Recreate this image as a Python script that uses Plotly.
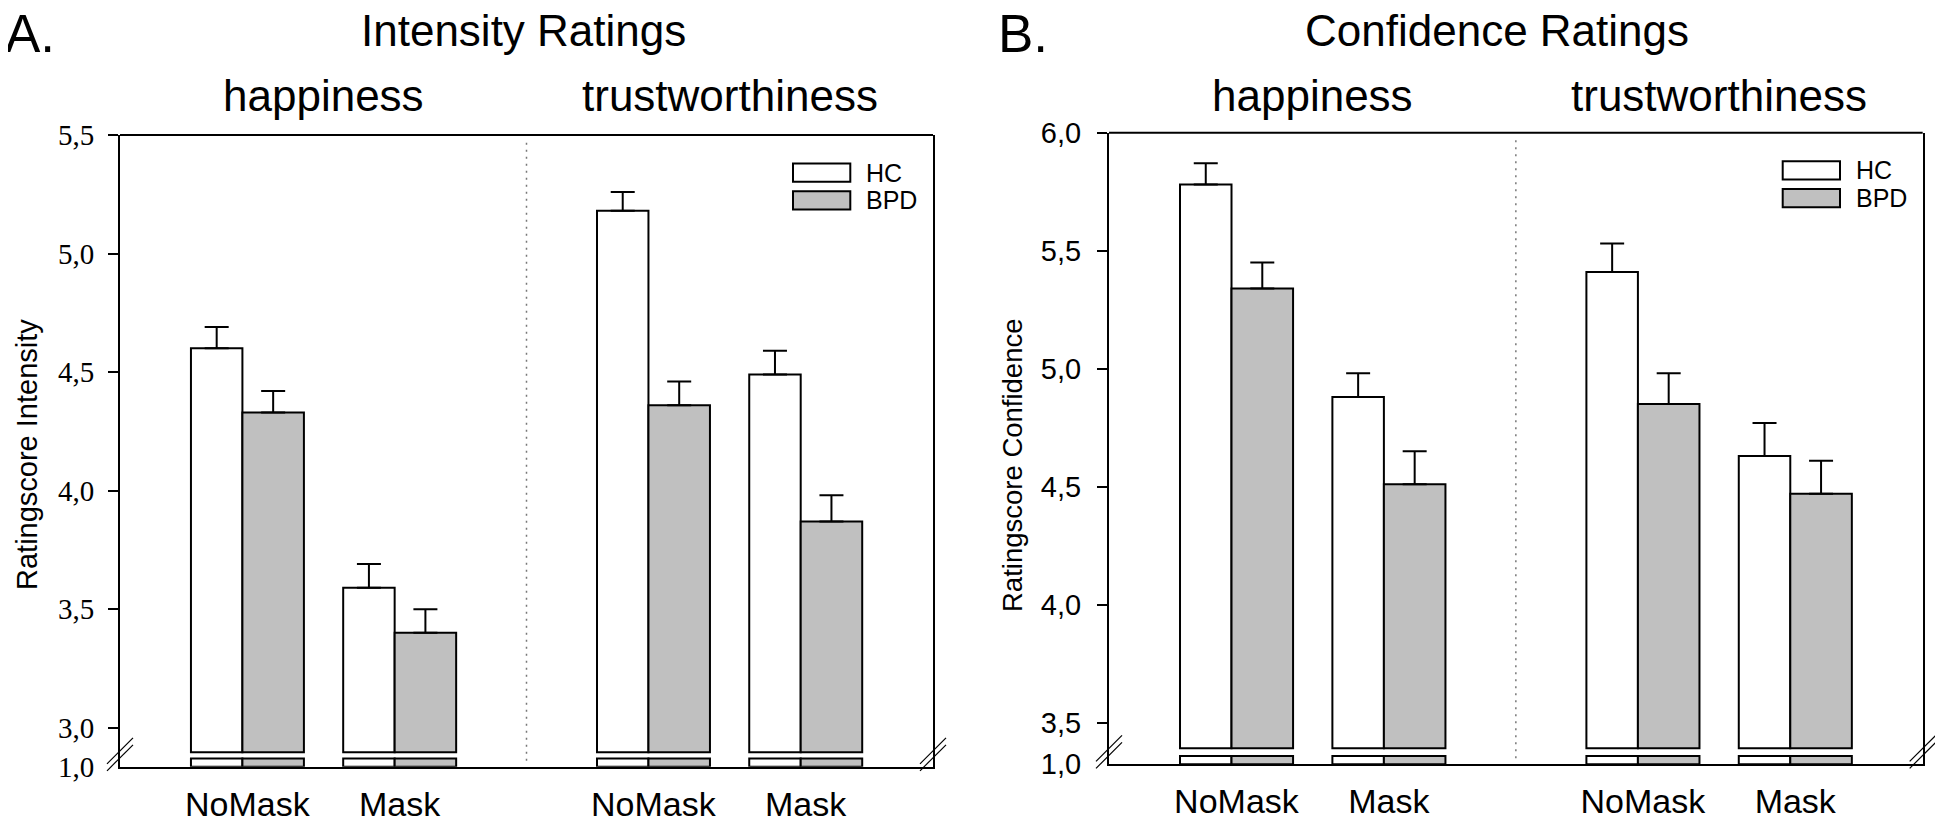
import plotly.graph_objects as go

# ---------------- data ----------------
EMOTIONS = ["happiness", "trustworthiness"]
CONDITIONS = ["NoMask", "Mask", "NoMask", "Mask"]
GROUPS = ["HC", "BPD"]
GROUP_COLORS = ["#ffffff", "#c0c0c0"]

INT_HC = [4.60, 3.59, 5.18, 4.49]
INT_HC_SE = [0.09, 0.10, 0.08, 0.10]
INT_BPD = [4.33, 3.40, 4.36, 3.87]
INT_BPD_SE = [0.09, 0.10, 0.10, 0.11]

CONF_HC = [5.78, 4.88, 5.41, 4.63]
CONF_HC_SE = [0.09, 0.10, 0.12, 0.14]
CONF_BPD = [5.34, 4.51, 4.85, 4.47]
CONF_BPD_SE = [0.11, 0.14, 0.13, 0.14]

INT_TICKS = [3.0, 3.5, 4.0, 4.5, 5.0, 5.5]
CONF_TICKS = [3.5, 4.0, 4.5, 5.0, 5.5, 6.0]
LOW_TICK = [1.0]

# ---------------- layout constants ----------------
W, H = 1943, 820
PAGE_OFF = 8                                # page body margin of the html
X_POS = [0.0, 1.0, 2.667, 3.667]          # category positions
X_RANGE = [-0.8365, 4.5035]
HC_OFF, HC_W = -0.3705, 0.338
BPD_OFF, BPD_W = -0.0325, 0.404
LOW_RANGE = [1.0, 1.1]
STUB = 0.08

SANS = "Liberation Sans"
SERIF = "Liberation Serif"


def px(x):
    return (x - PAGE_OFF) / W


def py(y):
    return 1 - (y - PAGE_OFF) / H


panels = [
    dict(name="A.", title="Intensity Ratings", ytitle="Ratingscore Intensity",
         hc=INT_HC, hc_se=INT_HC_SE, bpd=INT_BPD, bpd_se=INT_BPD_SE,
         ticks=INT_TICKS, tickfont=SERIF, tsize=29, tstand=8, ytsize=29,
         x0=120, x1=933, top=135, ref_px=727.7, base_px=752.3, bottom=766.7,
         letter_x=4, title_x=523, ytitle_x=27, ytitle_y=455),
    dict(name="B.", title="Confidence Ratings", ytitle="Ratingscore Confidence",
         hc=CONF_HC, hc_se=CONF_HC_SE, bpd=CONF_BPD, bpd_se=CONF_BPD_SE,
         ticks=CONF_TICKS, tickfont=SANS, tsize=29, tstand=10, ytsize=27.5,
         x0=1109, x1=1922.7, top=132.7, ref_px=722.5, base_px=748.3, bottom=764.3,
         letter_x=997, title_x=1497, ytitle_x=1012, ytitle_y=465),
]

fig = go.Figure()
shapes = []
annotations = []
layout = {}

for i, p in enumerate(panels):
    xa = "x" if i == 0 else "x2"
    yu = "y" if i == 0 else "y3"
    yl = "y2" if i == 0 else "y4"
    top_val, ref_val = p["ticks"][-1], p["ticks"][0]
    k = (p["ref_px"] - p["top"]) / (top_val - ref_val)
    low_h = 10.4
    split_px = p["bottom"] - low_h
    up_bottom_val = top_val - (split_px - p["top"]) / k
    base = top_val - (p["base_px"] - p["top"]) / k

    series = [(GROUPS[0], p["hc"], p["hc_se"], GROUP_COLORS[0], HC_OFF, HC_W),
              (GROUPS[1], p["bpd"], p["bpd_se"], GROUP_COLORS[1], BPD_OFF, BPD_W)]
    for g, vals, se, col, off, wd in series:
        fig.add_trace(go.Bar(
            x=X_POS, y=[v - base for v in vals], base=base,
            offset=off, width=wd, xaxis=xa, yaxis=yu,
            marker=dict(color=col, line=dict(color="black", width=2)),
            error_y=dict(type="data", array=se, arrayminus=[0] * len(se),
                         symmetric=False, color="black", thickness=2, width=12),
            showlegend=False, name=g))
        fig.add_trace(go.Bar(
            x=X_POS, y=[STUB] * len(vals), base=LOW_RANGE[0],
            offset=off, width=wd, xaxis=xa, yaxis=yl,
            marker=dict(color=col, line=dict(color="black", width=2)),
            showlegend=False, name=g, hoverinfo="skip"))

    xdom = [px(p["x0"]), px(p["x1"])]
    xkey = "xaxis" if i == 0 else "xaxis2"
    yukey = "yaxis" if i == 0 else "yaxis3"
    ylkey = "yaxis2" if i == 0 else "yaxis4"
    layout[xkey] = dict(domain=xdom, range=X_RANGE, anchor=yl, automargin=False,
                        tickvals=X_POS, ticktext=CONDITIONS,
                        tickfont=dict(family=SANS, size=34, color="black"),
                        showline=True, linecolor="black", linewidth=2,
                        ticks="", showgrid=False, zeroline=False,
                        ticklabelstandoff=6, fixedrange=True)
    layout[yukey] = dict(domain=[py(split_px), py(p["top"])], automargin=False,
                         range=[up_bottom_val, top_val], anchor=xa,
                         tickvals=p["ticks"], tickformat=".1f",
                         tickfont=dict(family=p["tickfont"], size=p["tsize"], color="black"),
                         ticks="outside", ticklen=10, tickwidth=2, tickcolor="black",
                         showline=True, mirror=True, linecolor="black", linewidth=2,
                         showgrid=False, zeroline=False, ticklabelstandoff=p["tstand"])
    layout[ylkey] = dict(domain=[py(p["bottom"]), py(split_px)], automargin=False,
                         range=LOW_RANGE, anchor=xa,
                         tickvals=LOW_TICK, tickformat=".1f",
                         tickfont=dict(family=p["tickfont"], size=p["tsize"], color="black"),
                         ticks="outside", ticklen=10, tickwidth=2,
                         tickcolor="rgba(0,0,0,0)",
                         showline=True, mirror=True, linecolor="black", linewidth=2,
                         showgrid=False, zeroline=False, ticklabelstandoff=p["tstand"])

    # top frame line
    shapes.append(dict(type="line", xref=f"{xa} domain", yref=f"{yu} domain",
                       x0=0, x1=1, y0=1, y1=1, line=dict(color="black", width=2)))
    # dotted divider between emotions
    div = (X_POS[1] + X_POS[2]) / 2
    shapes.append(dict(type="line", xref=xa, yref="paper", x0=div, x1=div,
                       y0=py(p["bottom"] - 6), y1=py(p["top"] + 3),
                       line=dict(color="#777777", width=1.5, dash="2px,5px"), layer="below"))
    # axis break marks
    for bx in (p["x0"], p["x1"]):
        cy = split_px - 2
        for dy in (-3.5, 3.5):
            shapes.append(dict(type="line", xref="paper", yref="paper",
                               x0=px(bx - 13), y0=py(cy + 13 + dy),
                               x1=px(bx + 13), y1=py(cy - 13 + dy),
                               line=dict(color="black", width=1.2)))
    # legend
    lx0 = p["x1"] - 140
    for j, (g, col) in enumerate(zip(GROUPS, GROUP_COLORS)):
        ly0 = p["top"] + 28.5 + j * 27.7
        shapes.append(dict(type="rect", xref="paper", yref="paper",
                           x0=px(lx0), x1=px(lx0 + 57.3), y0=py(ly0), y1=py(ly0 + 18.3),
                           fillcolor=col, line=dict(color="black", width=2)))
        annotations.append(dict(text=g, xref="paper", yref="paper",
                                x=px(lx0 + 72), y=py(ly0 + 9.2), xanchor="left", yanchor="middle",
                                showarrow=False, borderpad=0,
                                font=dict(family=SANS, size=25, color="black")))
    # titles
    annotations.append(dict(text=p["name"], xref="paper", yref="paper",
                            x=px(p["letter_x"]), y=py(33), xanchor="left", yanchor="middle",
                            showarrow=False, borderpad=0,
                            font=dict(family=SANS, size=53, color="black")))
    annotations.append(dict(text=p["title"], xref="paper", yref="paper",
                            x=px(p["title_x"]), y=py(30), xanchor="center", yanchor="middle",
                            showarrow=False, borderpad=0,
                            font=dict(family=SANS, size=44, color="black")))
    for e, emo in enumerate(EMOTIONS):
        cx = (X_POS[2 * e] + X_POS[2 * e + 1]) / 2
        annotations.append(dict(text=emo, xref=xa, yref="paper",
                                x=cx, y=py(96), xanchor="center", yanchor="middle",
                                showarrow=False, borderpad=0,
                                font=dict(family=SANS, size=44, color="black")))
    annotations.append(dict(text=p["ytitle"], xref="paper", yref="paper",
                            x=px(p["ytitle_x"]), y=py(p["ytitle_y"]), textangle=-90,
                            xanchor="center", yanchor="middle", showarrow=False, borderpad=0,
                            font=dict(family=SANS, size=p["ytsize"], color="black")))

fig.update_layout(
    template="none",
    width=W, height=H, margin=dict(l=0, r=0, t=0, b=0, autoexpand=False),
    paper_bgcolor="white", plot_bgcolor="white",
    barmode="overlay", separators=", ",
    shapes=shapes, annotations=annotations, showlegend=False,
    **layout)

fig.write_html("out.html")
